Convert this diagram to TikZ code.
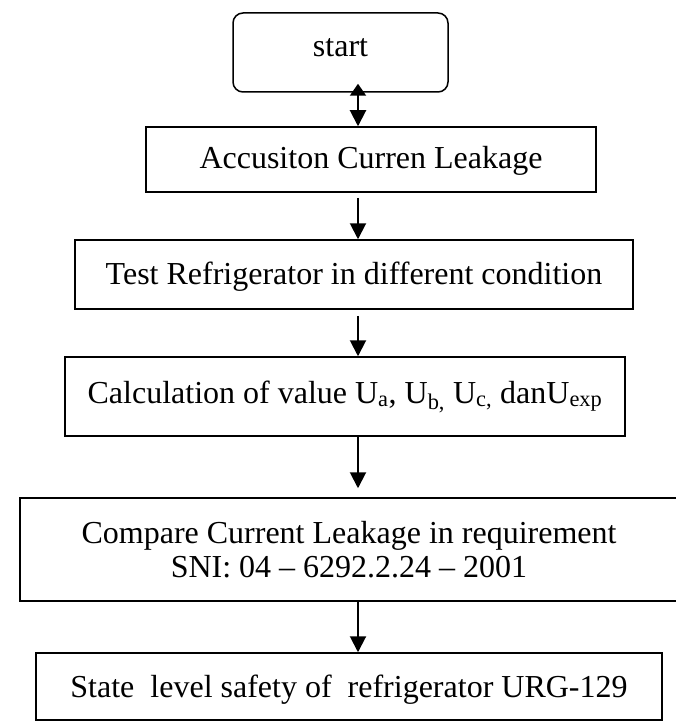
\documentclass[tikz,border=0pt]{standalone}
\usepackage{fontspec}
\setmainfont{Liberation Serif}
\usetikzlibrary{arrows.meta}
\begin{document}
\begin{tikzpicture}[x=1pt,y=-1pt,
  box/.style={draw,line width=1.5pt,inner sep=0pt},
  txt/.style={font=\fontsize{32}{34}\selectfont,anchor=base,inner sep=0pt},
  arr/.style={line width=2pt,-{Triangle[width=16pt,length=16pt]}}]
\useasboundingbox (0,0) rectangle (676,722);
\coordinate (ax) at (358,0);
% boxes
\node[box,rounded corners=10pt,minimum width=215pt,minimum height=79pt] (s) at (340.5,52.5) {};
\node[box,minimum width=450pt,minimum height=65pt] (b1) at (371,159.5) {};
\node[box,minimum width=558pt,minimum height=69pt] (b2) at (354,274.5) {};
\node[box,minimum width=560pt,minimum height=79pt] (b3) at (345,396.5) {};
\node[box,minimum width=662pt,minimum height=103pt] (b4) at (351,549.5) {};
\node[box,minimum width=626pt,minimum height=67pt] (b5) at (349,686.5) {};
% texts
\node[txt] (ts) at (340.5,57) {start};
\node[txt] (t1) at (371,169) {Accusiton Curren Leakage};
\node[txt] (t2) at (354,284) {Test Refrigerator in different condition};
\node[txt] (t3) at (345,403) {Calculation of value U\textsubscript{a}, U\textsubscript{b,} U\textsubscript{c,} danU\textsubscript{exp}};
\node[txt] (t4a) at (349,543) {Compare Current Leakage in requirement};
\node[txt] (t4b) at (349,577) {SNI: 04 – 6292.2.24 – 2001};
\node[txt] (t5) at (349,697) {State \ level safety of \ refrigerator URG-129};
% connectors
\draw[line width=2pt,{Triangle[width=16pt,length=12pt]}-{Triangle[width=16pt,length=16pt]}]
  ([yshift=9pt]s.south -| ax) -- (b1.north -| ax);
\draw[arr,shorten <=5pt] (b1.south -| ax) -- (b2.north -| ax);
\draw[arr,shorten <=6pt] (b2.south -| ax) -- (b3.north -| ax);
\draw[arr,shorten >=9pt] (b3.south -| ax) -- (b4.north -| ax);
\draw[arr] (b4.south -| ax) -- (b5.north -| ax);
\end{tikzpicture}
\end{document}
